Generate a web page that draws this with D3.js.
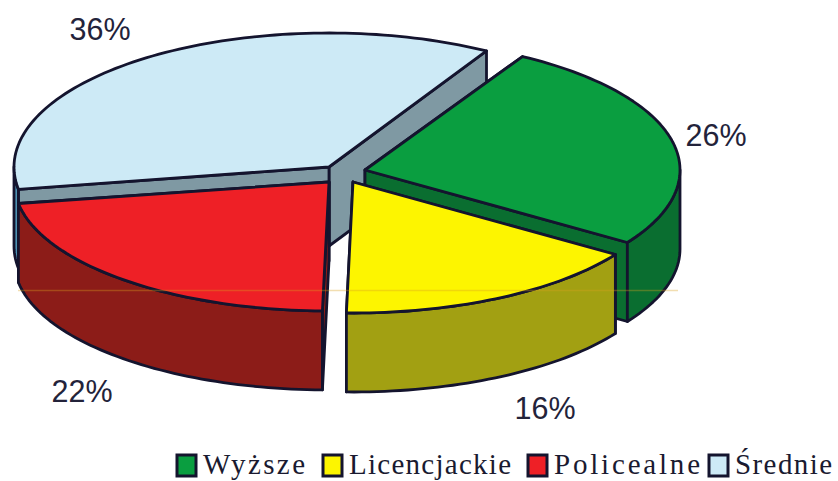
<!DOCTYPE html>
<meta charset='utf-8'>
<head>
  <title>Wykształcenie</title>
  <style>
    html, body { margin: 0; padding: 0; background: #fff; }
    svg { display: block; }
  </style>
</head>
<body>
<div id='chart'></div>
<script src='https://d3js.org/d3.v7.min.js'></script>
<script>

// values
var categories = ['Wyższe', 'Licencjackie', 'Policealne', 'Średnie'];
var shares = [26, 16, 22, 36];
var labels = ['26%', '16%', '22%', '36%'];

var topColors = ['#0a9e40', '#fdf500', '#ee2026', '#cdeaf6'];
var sideColors = ['#0a6e30', '#a2a012', '#8c1c18', '#4d93b5'];
var wallColors = ['#0a6e30', '#a2a012', '#8c1c18', '#7f99a3'];

var width = 838,
    height = 481,
    rx = 315,
    depth = 79,
    ink = '#14142e';

// centre and vertical radius of each pulled out slice, and where its label sits
var centers = [[365, 170], [353, 182], [329, 182], [329, 167]];
var radiiY = [131, 131, 129, 134];
var labelPos = [[716, 135], [545, 408], [82, 391], [100, 29]];
var legendX = [176, 322, 527, 708];
var legendW = [102, 162, 146, 97];

var svg = d3.select('#chart').append('svg')
    .attr('width', width)
    .attr('height', height);

var pie = d3.pie().sort(null)
    .startAngle(30 * Math.PI / 180)
    .endAngle(390 * Math.PI / 180);

var arcs = pie(shares);
arcs.forEach(function(d, i) { d.c = centers[i]; d.ry = radiiY[i]; });

function rim(d, a, dz) {
  return [d.c[0] + rx * Math.sin(a), d.c[1] - d.ry * Math.cos(a) + (dz || 0)];
}

function sweep(a0, a1) {
  var n = Math.max(2, Math.ceil(Math.abs(a1 - a0) * 40));
  return d3.range(n + 1).map(function(k) { return a0 + (a1 - a0) * k / n; });
}

var line = d3.line();

function topFace(d) {
  var pts = sweep(d.startAngle, d.endAngle).map(function(a) { return rim(d, a); });
  return line([d.c].concat(pts)) + 'Z';
}

function outerFace(d) {
  // only the part of the rim that faces the viewer (90 to 270 degrees)
  var lo = Math.max(d.startAngle, Math.PI / 2),
      hi = Math.min(d.endAngle, Math.PI * 1.5);
  if (hi <= lo) return null;
  var a = sweep(lo, hi);
  var pts = a.map(function(t) { return rim(d, t); })
      .concat(a.slice().reverse().map(function(t) { return rim(d, t, depth); }));
  return line(pts) + 'Z';
}

function wall(d, a) {
  var p = rim(d, a);
  return line([d.c, p, [p[0], p[1] + depth], [d.c[0], d.c[1] + depth]]) + 'Z';
}

// back to front: blue, green, red, yellow
var order = [3, 0, 2, 1];
order.forEach(function(i) {
  var d = arcs[i];
  var g = svg.append('g').attr('class', 'slice')
      .attr('stroke', ink)
      .attr('stroke-width', 2.8)
      .attr('stroke-linejoin', 'round');
  var walls = [d.startAngle, d.endAngle];
  // the wall on the far side goes first
  walls.sort(function(a, b) { return rim(d, a)[1] - rim(d, b)[1]; });
  walls.forEach(function(a) {
    g.append('path').attr('d', wall(d, a)).attr('fill', wallColors[i]);
  });
  var o = outerFace(d);
  if (o) g.append('path').attr('d', o).attr('fill', sideColors[i]);
  g.append('path').attr('d', topFace(d)).attr('fill', topColors[i]);
});

// faint scan line running through the pie
svg.append('line')
    .attr('x1', 18).attr('x2', 678)
    .attr('y1', 290.5).attr('y2', 290.5)
    .attr('stroke', '#d9a020')
    .attr('stroke-opacity', 0.35)
    .attr('stroke-width', 1.5);

svg.selectAll('text.pct')
    .data(labels)
  .enter().append('text')
    .attr('class', 'pct')
    .attr('x', function(d, i) { return labelPos[i][0]; })
    .attr('y', function(d, i) { return labelPos[i][1]; })
    .attr('dy', '0.36em')
    .attr('text-anchor', 'middle')
    .style('font-family', '"Liberation Sans", Arial, sans-serif')
    .style('font-size', '30.5px')
    .style('fill', '#23233a')
    .text(function(d) { return d; });

var legend = svg.selectAll('g.legend')
    .data(categories)
  .enter().append('g')
    .attr('class', 'legend')
    .attr('transform', function(d, i) { return 'translate(' + legendX[i] + ',0)'; });

legend.append('rect')
    .attr('x', 1).attr('y', 455)
    .attr('width', 19).attr('height', 21)
    .attr('fill', function(d, i) { return topColors[i]; })
    .attr('stroke', ink)
    .attr('stroke-width', 3);

legend.append('text')
    .attr('x', 27)
    .attr('y', 474)
    .attr('textLength', function(d, i) { return legendW[i]; })
    .attr('lengthAdjust', 'spacing')
    .style('font-family', '"Liberation Serif", "Times New Roman", serif')
    .style('font-size', '29px')
    .style('fill', '#1a1a30')
    .text(function(d) { return d; });

</script>
</body>
